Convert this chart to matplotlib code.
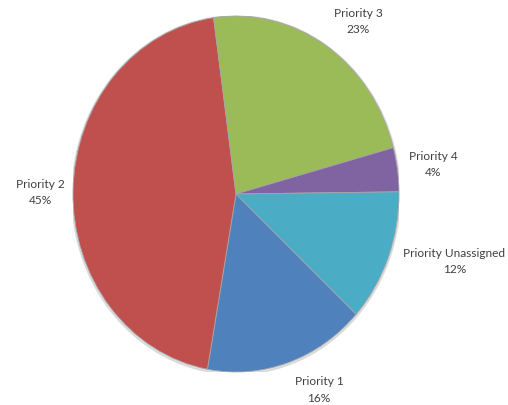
import matplotlib.pyplot as plt
from matplotlib.patches import Ellipse

# share of open items by priority
priorities = ['Priority 1', 'Priority 2', 'Priority 3', 'Priority 4', 'Priority Unassigned']
shares = [16, 45, 23, 4, 12]
colors = ['#4F81BD', '#C0504D', '#9BBB59', '#8064A2', '#4BACC6']

# label anchor points (pie-radius units)
label_pos = [(0.51, -1.095), (-1.20, 0.015), (0.75, 0.975), (1.21, 0.17), (1.34, -0.375)]

fig = plt.figure(figsize=(5.08, 4.06), dpi=100)
# the pie is stretched slightly taller than wide
ax = fig.add_axes([73 / 508, 33 / 406, 326 / 508, 356 / 406])

ax.add_patch(Ellipse((0.0, -0.006), 2.015, 2.015, color='#c4c4c4', alpha=0.5, zorder=0))
wedges, _ = ax.pie(shares, colors=colors, startangle=-42.5, counterclock=False,
                   wedgeprops=dict(edgecolor='#a6a6a6', linewidth=0.6))

for name, val, (x, y) in zip(priorities, shares, label_pos):
    ax.text(x, y, f'{name}\n{val}%', ha='center', va='center', fontsize=8.6,
            family='Lato', color='#404040', linespacing=1.6)

ax.set_aspect('auto')
ax.set_xlim(-1, 1)
ax.set_ylim(-1, 1)
ax.axis('off')

fig.savefig('out.png', dpi=100)
